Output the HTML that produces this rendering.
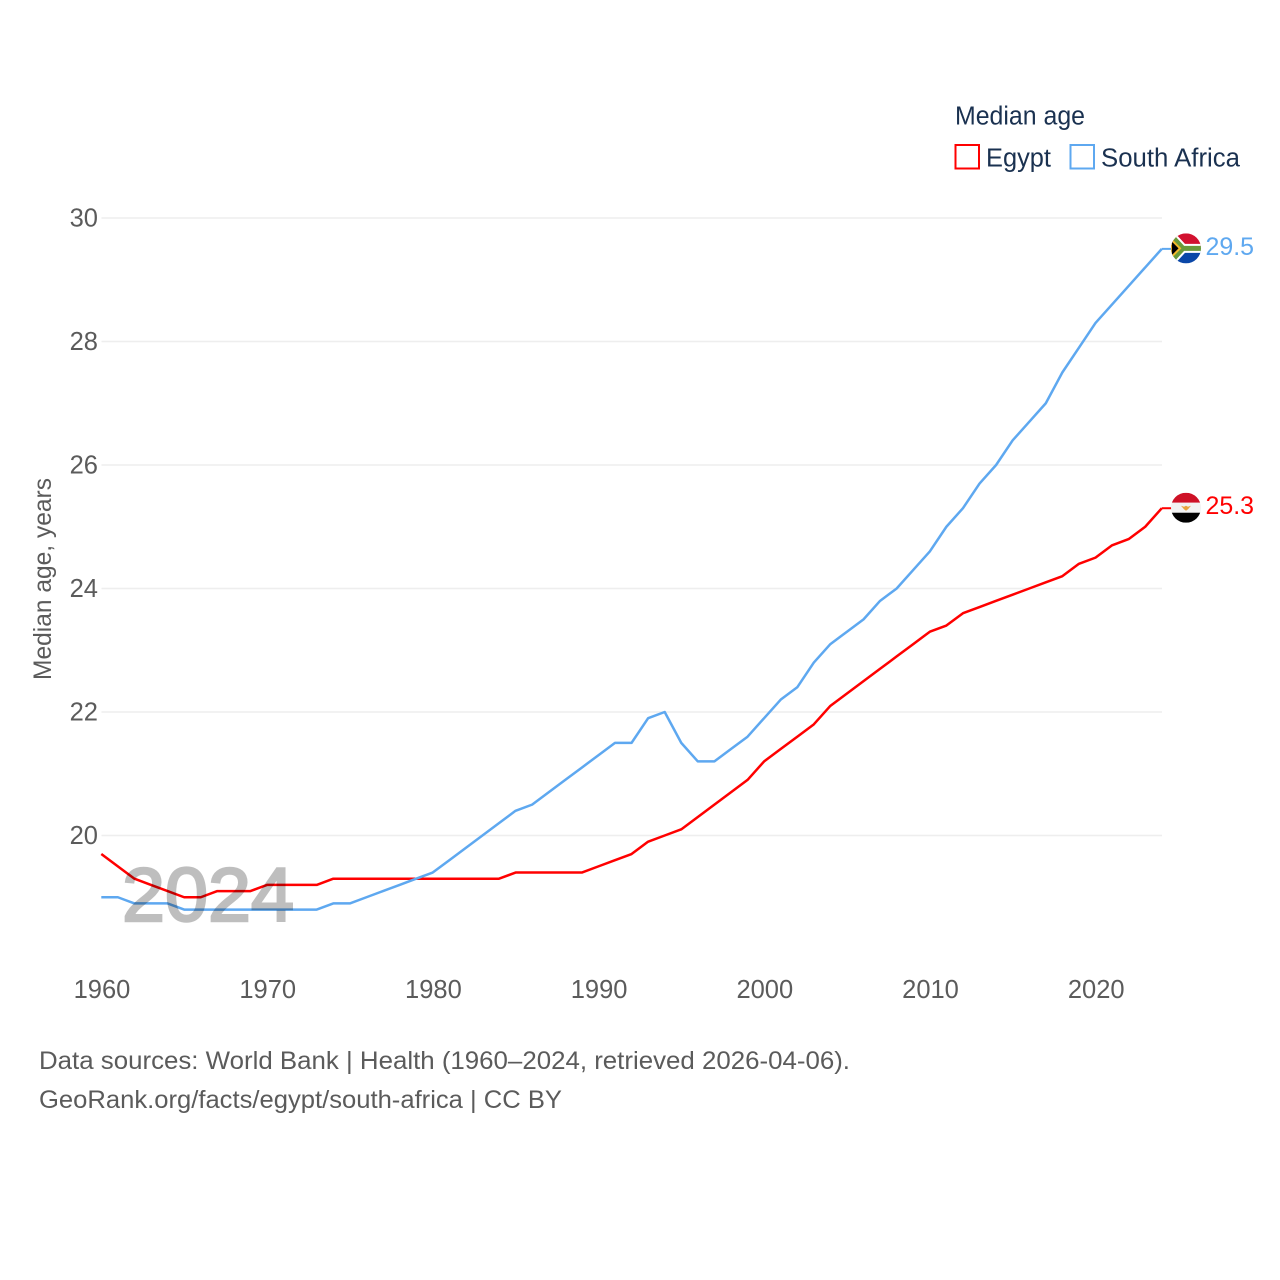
<!DOCTYPE html>
<html lang="en">
<head>
<meta charset="utf-8">
<title>Median age: Egypt and South Africa</title>
<style>
html,body{margin:0;padding:0;background:#fff;width:1280px;height:1280px;overflow:hidden}
svg{display:block}
text{font-family:"Liberation Sans",sans-serif}
</style>
</head>
<body>
<svg id="chart" xmlns="http://www.w3.org/2000/svg" width="1280" height="1280" viewBox="0 0 1280 1280">
  <defs>
    <clipPath id="flag-clip"><circle cx="0" cy="0" r="15"/></clipPath>
  </defs>
  <rect width="1280" height="1280" fill="#fff"/>
  <g id="grid"></g>
  <g id="yticks"></g>
  <g id="xticks"></g>
  <text transform="translate(51,680) rotate(-90)" font-size="25" fill="#5b5b5b" textLength="202" lengthAdjust="spacingAndGlyphs">Median age, years</text>
  <g id="series"></g>
  <text x="122" y="921" font-size="76" fill="#000" stroke="#000" stroke-width="2.5" opacity="0.25" textLength="172" lengthAdjust="spacingAndGlyphs">2024</text>
  <g id="ends"></g>
  <g>
    <text x="955" y="124.5" font-size="25.5" fill="#1a3150" textLength="130" lengthAdjust="spacingAndGlyphs">Median age</text>
    <g>
      <rect x="955.5" y="145" width="23.5" height="23.5" fill="#fff" stroke="#ff0000" stroke-width="2"/>
      <text x="986" y="166.5" font-size="25.5" fill="#1a3150" textLength="65" lengthAdjust="spacingAndGlyphs">Egypt</text>
    </g>
    <g>
      <rect x="1070.5" y="145" width="23.5" height="23.5" fill="#fff" stroke="#5ea8f0" stroke-width="2"/>
      <text x="1101" y="166.5" font-size="25.5" fill="#1a3150" textLength="139" lengthAdjust="spacingAndGlyphs">South Africa</text>
    </g>
  </g>
  <text x="39" y="1069" font-size="25" fill="#5b5b5b" textLength="811" lengthAdjust="spacingAndGlyphs">Data sources: World Bank | Health (1960–2024, retrieved 2026-04-06).</text>
  <text x="39" y="1108" font-size="25" fill="#5b5b5b" textLength="523" lengthAdjust="spacingAndGlyphs">GeoRank.org/facts/egypt/south-africa | CC BY</text>
</svg>
<script>
const years = [1960,1961,1962,1963,1964,1965,1966,1967,1968,1969,1970,1971,1972,1973,1974,1975,1976,1977,1978,1979,1980,1981,1982,1983,1984,1985,1986,1987,1988,1989,1990,1991,1992,1993,1994,1995,1996,1997,1998,1999,2000,2001,2002,2003,2004,2005,2006,2007,2008,2009,2010,2011,2012,2013,2014,2015,2016,2017,2018,2019,2020,2021,2022,2023,2024];
const egyptValues = [19.7,19.5,19.3,19.2,19.1,19.0,19.0,19.1,19.1,19.1,19.2,19.2,19.2,19.2,19.3,19.3,19.3,19.3,19.3,19.3,19.3,19.3,19.3,19.3,19.3,19.4,19.4,19.4,19.4,19.4,19.5,19.6,19.7,19.9,20.0,20.1,20.3,20.5,20.7,20.9,21.2,21.4,21.6,21.8,22.1,22.3,22.5,22.7,22.9,23.1,23.3,23.4,23.6,23.7,23.8,23.9,24.0,24.1,24.2,24.4,24.5,24.7,24.8,25.0,25.3];
const southAfricaValues = [19.0,19.0,18.9,18.9,18.9,18.8,18.8,18.8,18.8,18.8,18.8,18.8,18.8,18.8,18.9,18.9,19.0,19.1,19.2,19.3,19.4,19.6,19.8,20.0,20.2,20.4,20.5,20.7,20.9,21.1,21.3,21.5,21.5,21.9,22.0,21.5,21.2,21.2,21.4,21.6,21.9,22.2,22.4,22.8,23.1,23.3,23.5,23.8,24.0,24.3,24.6,25.0,25.3,25.7,26.0,26.4,26.7,27.0,27.5,27.9,28.3,28.6,28.9,29.2,29.5];
const yTickLabels = [20,22,24,26,28,30];
const xTickLabels = [1960,1970,1980,1990,2000,2010,2020];

const NS = 'http://www.w3.org/2000/svg';
const RED = '#ff0000';
const BLUE = '#5ea8f0';
function xScale(year){ return 101.3 + (year - 1960) * (1161.8 - 101.3) / 64; }
function yScale(v){ return 218 + (30 - v) * 61.75; }
function make(tag, attrs, parent){
  const el = document.createElementNS(NS, tag);
  for (const k in attrs) el.setAttribute(k, attrs[k]);
  parent.appendChild(el);
  return el;
}

const grid = document.getElementById('grid');
const yticks = document.getElementById('yticks');
yTickLabels.forEach(function(t){
  const line = make('line', {x1:101.5, x2:1162, y1:yScale(t), y2:yScale(t), stroke:'#eeeeee', 'stroke-width':1.6}, grid);
  
  
  const label = make('text', {x:98, y:yScale(t)+8.5, 'text-anchor':'end', 'font-size':25.5, fill:'#5b5b5b'}, yticks);
  
  
  label.textContent = t;
});

const xticks = document.getElementById('xticks');
xTickLabels.forEach(function(t){
  const label = make('text', {x:xScale(t) + 0.7, y:998, 'text-anchor':'middle', 'font-size':25.5, fill:'#5b5b5b'}, xticks);
  
  
  label.textContent = t;
});

function linePoints(values){
  return values.map(function(v, i){ return xScale(years[i]).toFixed(2) + ',' + yScale(v).toFixed(2); }).join(' ');
}
const seriesGroup = document.getElementById('series');
const egyptLine = make('polyline', {points:linePoints(egyptValues), fill:'none', stroke:RED, 'stroke-width':2.5, 'stroke-linejoin':'round'}, seriesGroup);


const saLine = make('polyline', {points:linePoints(southAfricaValues), fill:'none', stroke:BLUE, 'stroke-width':2.5, 'stroke-linejoin':'round'}, seriesGroup);



const ends = document.getElementById('ends');
function endMarker(values, color, key, drawFlag){
  const last = values[values.length - 1];
  const y = yScale(last);
  const lx = xScale(years[years.length - 1]);
  const connector = make('line', {x1:lx, x2:lx + 10, y1:y, y2:y, stroke:color, 'stroke-width':2}, ends);
  
  
  const flag = make('g', {transform:'translate(1186,' + (y - 0.5) + ')'}, ends);
  
  
  const inner = make('g', {'clip-path':'url(#flag-clip)'}, flag);
  drawFlag(inner);
  const label = make('text', {x:1205.5, y:y + 6, 'font-size':25, fill:color, textLength:48.5, lengthAdjust:'spacingAndGlyphs'}, ends);
  
  
  label.textContent = last.toFixed(1);
}
function drawEgypt(g){
  make('rect', {x:-15, y:-15, width:30, height:10, fill:'#ce1126'}, g);
  make('rect', {x:-15, y:-5, width:30, height:10, fill:'#f2f2f2'}, g);
  make('rect', {x:-15, y:5, width:30, height:10, fill:'#000'}, g);
  make('path', {d:'M-5,-2 L-2,-1 L0,-2 L2,-1 L5,-2 L2,1.5 L0,3 L-2,1.5 Z', fill:'#e8a33d'}, g);
}
function drawSA(g){
  make('rect', {x:-15, y:-15, width:30, height:15, fill:'#d2112f'}, g);
  make('rect', {x:-15, y:0, width:30, height:15, fill:'#0a47a8'}, g);
  make('path', {d:'M-15,-13 L-3,0 L-15,13 M-3,0 L15,0', fill:'none', stroke:'#fff', 'stroke-width':9}, g);
  make('path', {d:'M-15,-13 L-3,0 L-15,13 M-3,0 L15,0', fill:'none', stroke:'#6a9a3a', 'stroke-width':5}, g);
  make('path', {d:'M-15,-9 L-6,0 L-15,9 Z', fill:'#000', stroke:'#f4b92a', 'stroke-width':2}, g);
}
endMarker(southAfricaValues, BLUE, 'south-africa', drawSA);
endMarker(egyptValues, RED, 'egypt', drawEgypt);
</script>
</body>
</html>
